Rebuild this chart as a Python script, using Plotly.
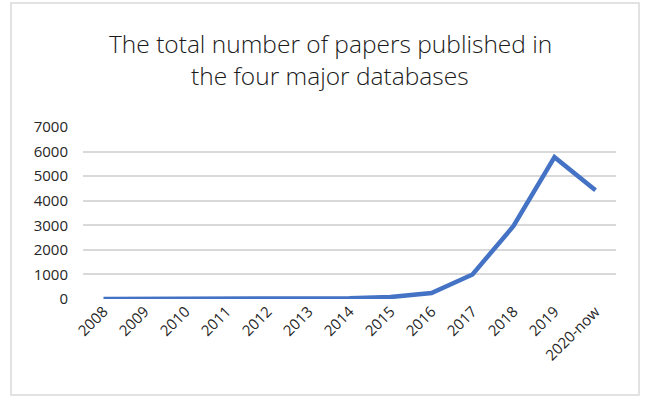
import plotly.graph_objects as go

categories = ["2008", "2009", "2010", "2011", "2012", "2013", "2014", "2015",
              "2016", "2017", "2018", "2019", "2020-now"]
papers = [2, 3, 5, 8, 12, 18, 35, 80, 240, 1000, 2970, 5770, 4430]
y_ticks = [0, 1000, 2000, 3000, 4000, 5000, 6000, 7000]
title_lines = ["The total number of papers published in", "the four major databases"]

W, H = 650, 397
L, R, T, B = 83, 34, 127, 98
pw, ph = W - L - R, H - T - B

def px_x(x):
    return (x - L) / pw

def px_y(y):
    return (H - B - y) / ph

font = "Open Sans"

fig = go.Figure()
fig.add_trace(go.Scatter(
    x=categories, y=papers, mode="lines",
    line=dict(color="#4472c4", width=4.5),
    hoverinfo="skip",
))

annotations = []
for line, yc in zip(title_lines, [43, 76]):
    annotations.append(dict(
        text=line, xref="paper", yref="paper",
        x=px_x(330), y=px_y(yc), xanchor="center", yanchor="middle",
        showarrow=False,
        font=dict(family=font, size=24.5, color="#1a1a1a", weight=300),
    ))

tick_font = dict(family=font, size=15, color="#262626", weight=400)

fig.update_layout(
    width=W, height=H,
    margin=dict(l=L, r=R, t=T, b=B),
    paper_bgcolor="white", plot_bgcolor="white",
    showlegend=False,
    annotations=annotations,
    xaxis=dict(
        type="category", tickangle=-45,
        showgrid=False, zeroline=False, showline=False,
        ticks="", tickfont=tick_font,
        range=[-0.5, len(categories) - 0.5],
    ),
    yaxis=dict(
        range=[0, 7000], tickvals=y_ticks,
        showgrid=True, gridcolor="#d9d9d9", gridwidth=1.5,
        zeroline=False, showline=False, ticks="",
        tickfont=tick_font,
        ticklabelstandoff=14,
    ),
    shapes=[dict(
        type="rect", xref="paper", yref="paper",
        x0=px_x(11), x1=px_x(639), y0=px_y(395), y1=px_y(3),
        line=dict(color="#d9d9d9", width=1.5), fillcolor="rgba(0,0,0,0)",
        layer="below",
    )],
)

fig.write_html("out.html")
